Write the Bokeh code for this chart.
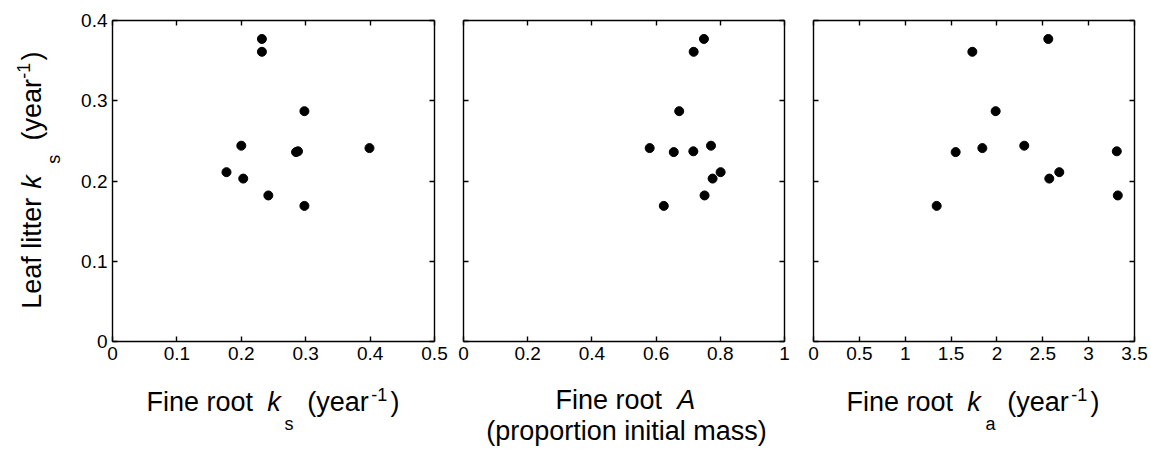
import math
from bokeh.plotting import figure
from bokeh.layouts import row, column
from bokeh.models import Range1d, LinearAxis, FixedTicker, CustomJSTickFormatter
from bokeh.core.properties import value
from bokeh.embed import file_html
from bokeh.resources import INLINE

# ---- data (one entry per site) ----
leaf_ks = [0.377, 0.361, 0.287, 0.244, 0.241, 0.237, 0.236, 0.211, 0.203, 0.182, 0.169]
root_ks = [0.232, 0.232, 0.298, 0.200, 0.399, 0.288, 0.285, 0.177, 0.203, 0.242, 0.298]
root_A = [0.749, 0.717, 0.672, 0.771, 0.580, 0.716, 0.655, 0.801, 0.776, 0.751, 0.624]
root_ka = [2.56, 1.732, 1.986, 2.298, 1.841, 3.307, 1.55, 2.68, 2.571, 3.318, 1.343]

x_ticks_1 = [0, 0.1, 0.2, 0.3, 0.4, 0.5]
x_ticks_2 = [0, 0.2, 0.4, 0.6, 0.8, 1.0]
x_ticks_3 = [0, 0.5, 1, 1.5, 2, 2.5, 3, 3.5]
y_ticks = [0, 0.1, 0.2, 0.3, 0.4]
x_max = [0.5, 1.0, 3.5]
y_max = 0.4

FONT = "Liberation Sans"
TICK_FS = "19px"
LAB_PX, SMALL_PX = 27, 18
BASE_SHIFT = 0.41   # glyph drawn this fraction of font size below the anchor

FMT = "return String(Math.round(tick * 100) / 100);"
EMPTY = "return '';"

TOTAL_W, TOTAL_H = 1151, 450
YLAB_W = 72
TOP_B, FRAME_H, BOT_B = 20, 321, 28
TOP_ROW_H = TOP_B + FRAME_H + BOT_B
BOT_ROW_H = TOTAL_H - TOP_ROW_H


def style_axis(ax, ticks, show):
    ax.ticker = FixedTicker(ticks=ticks)
    ax.axis_line_color = "black"
    ax.axis_line_width = 1.4
    ax.major_tick_in = 5
    ax.major_tick_out = 0
    ax.major_tick_line_color = "black"
    ax.major_tick_line_width = 1.4
    ax.minor_tick_line_color = None
    if show:
        ax.formatter = CustomJSTickFormatter(code=FMT)
        ax.major_label_text_font = FONT
        ax.major_label_text_font_size = TICK_FS
        ax.major_label_text_color = "black"
        ax.major_label_standoff = 5
    else:
        ax.formatter = CustomJSTickFormatter(code=EMPTY)
        ax.major_label_text_font_size = "0px"
        ax.major_label_standoff = 0


def make_fig(xs, xmax, xticks, fw, left_b, right_b, show_y):
    p = figure(width=left_b + fw + right_b, height=TOP_ROW_H,
               x_range=Range1d(0, xmax), y_range=Range1d(0, y_max),
               x_axis_type=None, y_axis_type=None,
               output_backend="svg", toolbar_location=None,
               min_border_left=left_b, min_border_right=right_b,
               min_border_top=TOP_B, min_border_bottom=BOT_B,
               background_fill_color="white", border_fill_color="white")
    p.outline_line_color = None
    p.xgrid.visible = False
    p.ygrid.visible = False
    bx = LinearAxis(); style_axis(bx, xticks, True); p.add_layout(bx, "below")
    tx = LinearAxis(); style_axis(tx, xticks, False); p.add_layout(tx, "above")
    ly = LinearAxis(); style_axis(ly, y_ticks, show_y); p.add_layout(ly, "left")
    ry = LinearAxis(); style_axis(ry, y_ticks, False); p.add_layout(ry, "right")
    p.scatter(xs, leaf_ks, size=9, fill_color="black", line_color="black")
    return p


def text_fig(w, h, y0, y1, top_b=0, bot_b=0):
    p = figure(width=w, height=h, x_range=Range1d(0, w), y_range=Range1d(y0, y1),
               x_axis_type=None, y_axis_type=None,
               min_border_left=0, min_border_right=0,
               min_border_top=top_b, min_border_bottom=bot_b,
               output_backend="svg", toolbar_location=None,
               background_fill_color="white", border_fill_color="white")
    p.outline_line_color = None
    p.xgrid.visible = False
    p.ygrid.visible = False
    return p


def put(p, pieces, h, rotated=False):
    # pieces: (text, page_x, page_baseline, px_size, style, align)
    for txt, x, y, px, style, align in pieces:
        shift = BASE_SHIFT * px
        if rotated:
            ax, ay = x - shift, h - y
        else:
            ax, ay = x, h - (y - shift)
        p.text(x=[ax], y=[ay], text=[txt], angle=math.pi / 2 if rotated else 0.0,
               text_font=value(FONT), text_font_size=value(f"{px}px"),
               text_font_style=value(style), text_align=value(align),
               text_baseline=value("alphabetic"), text_color="black")


p1 = make_fig(root_ks, x_max[0], x_ticks_1, 322, 112 - YLAB_W, 14, True)
p2 = make_fig(root_A, x_max[1], x_ticks_2, 321, 15, 14, False)
p3 = make_fig(root_ka, x_max[2], x_ticks_3, 321, 15, TOTAL_W - 1134, False)

# rotated y-axis title (its frame is aligned with the panels' frames)
ylab = text_fig(YLAB_W, TOP_ROW_H, BOT_B, TOP_ROW_H - TOP_B, TOP_B, BOT_B)
YB = 42.7
put(ylab, [
    ("Leaf litter", YB, 308.3, LAB_PX, "normal", "left"),
    ("k", YB, 188.3, LAB_PX, "italic", "left"),
    ("s", YB + 18.4, 163.3, SMALL_PX, "normal", "left"),
    ("(year", YB, 140.0, LAB_PX, "normal", "left"),
    ("-1", YB - 12.0, 78.3, SMALL_PX, "normal", "left"),
    (")", YB, 60.0, LAB_PX, "normal", "left"),
], TOP_ROW_H, rotated=True)

# x-axis titles (page coordinates; this strip starts at TOP_ROW_H)
xlab = text_fig(TOTAL_W, BOT_ROW_H, 0, BOT_ROW_H)
MAIN, SUB, SUP = 413.0, 431.0, 401.0
put(xlab, [
    ("Fine root", 146.0, MAIN, LAB_PX, "normal", "left"),
    ("k", 266.7, MAIN, LAB_PX, "italic", "left"),
    ("s", 284.0, SUB, SMALL_PX, "normal", "left"),
    ("(year", 306.7, MAIN, LAB_PX, "normal", "left"),
    ("-1", 370.7, SUP, SMALL_PX, "normal", "left"),
    (")", 390.0, MAIN, LAB_PX, "normal", "left"),
    ("Fine root", 555.0, 411.0, LAB_PX, "normal", "left"),
    ("A", 676.7, 411.0, LAB_PX, "italic", "left"),
    ("(proportion initial mass)", 626.0, 442.0, LAB_PX, "normal", "center"),
    ("Fine root", 846.0, MAIN, LAB_PX, "normal", "left"),
    ("k", 966.7, MAIN, LAB_PX, "italic", "left"),
    ("a", 985.0, SUB, SMALL_PX, "normal", "left"),
    ("(year", 1006.7, MAIN, LAB_PX, "normal", "left"),
    ("-1", 1070.7, SUP, SMALL_PX, "normal", "left"),
    (")", 1090.0, MAIN, LAB_PX, "normal", "left"),
], TOTAL_H)

layout = column(row(ylab, p1, p2, p3), xlab)
open("out.html", "w").write(file_html(layout, INLINE))
